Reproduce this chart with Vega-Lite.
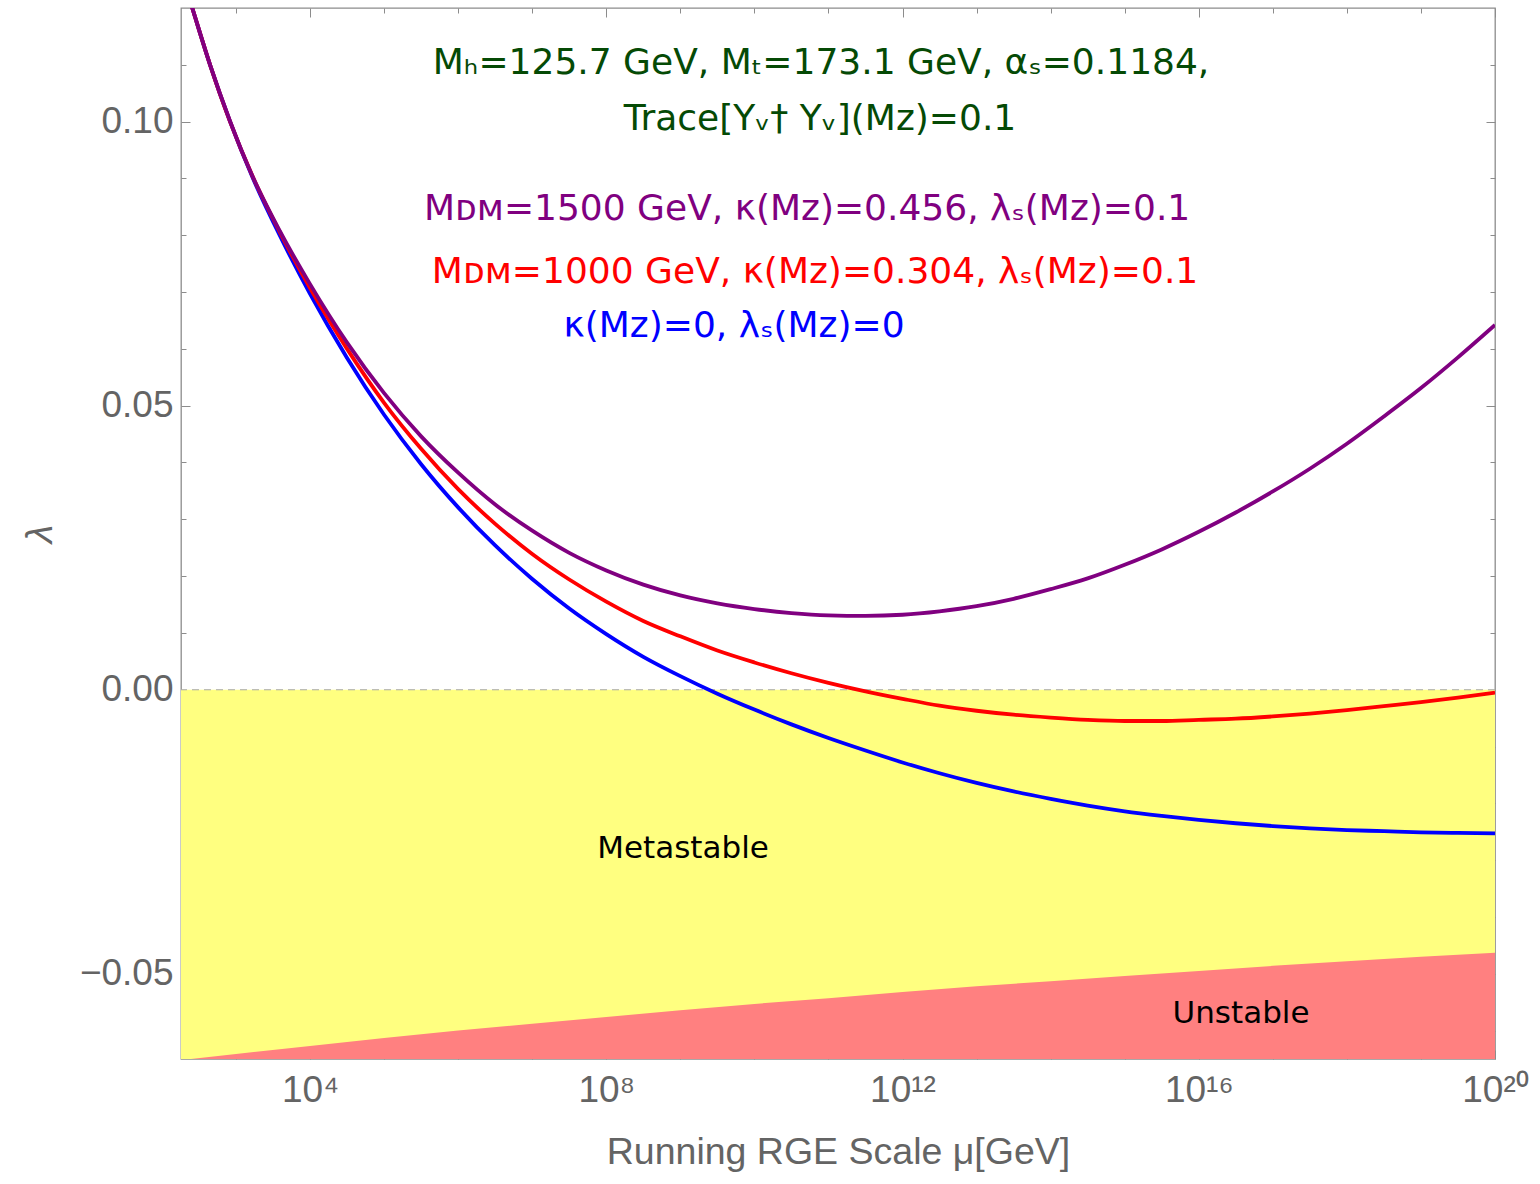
{
  "$schema": "https://vega.github.io/schema/vega-lite/v6.json",
  "width": 1314,
  "height": 1051,
  "autosize": {"type": "none"},
  "padding": {"left": 181, "top": 8, "right": 45, "bottom": 125},
  "background": "#ffffff",
  "config": {
    "view": {"stroke": "#8c8c8c", "strokeWidth": 1.3},
    "axis": {
      "grid": false, "domain": false,
      "labelFont": "Liberation Sans", "titleFont": "Liberation Sans",
      "labelColor": "#646464", "titleColor": "#646464",
      "tickColor": "#8c8c8c", "tickWidth": 1,
      "labelFontSize": 37, "titleFontSize": 37.5, "titleFontWeight": "normal"
    }
  },
  "datasets": {
    "curves": [
      {"mu": 181, "kappa0": 0.1264, "kappa304": 0.1264, "kappa456": 0.1264},
      {"mu": 257, "kappa0": 0.1200, "kappa304": 0.1200, "kappa456": 0.1200},
      {"mu": 446.7, "kappa0": 0.1100, "kappa304": 0.1100, "kappa456": 0.1100},
      {"mu": 831.8, "kappa0": 0.1000, "kappa304": 0.1000, "kappa456": 0.1001},
      {"mu": 1698, "kappa0": 0.0900, "kappa304": 0.0902, "kappa456": 0.0902},
      {"mu": 3890, "kappa0": 0.0800, "kappa304": 0.0806, "kappa456": 0.0808},
      {"mu": 1e4, "kappa0": 0.0697, "kappa304": 0.0707, "kappa456": 0.0714},
      {"mu": 31623, "kappa0": 0.0584, "kappa304": 0.0600, "kappa456": 0.0611},
      {"mu": 1e5, "kappa0": 0.0484, "kappa304": 0.0505, "kappa456": 0.0522},
      {"mu": 316228, "kappa0": 0.0397, "kappa304": 0.0424, "kappa456": 0.0446},
      {"mu": 1e6, "kappa0": 0.0321, "kappa304": 0.0353, "kappa456": 0.0382},
      {"mu": 3162278, "kappa0": 0.0254, "kappa304": 0.0292, "kappa456": 0.0326},
      {"mu": 1e7, "kappa0": 0.0195, "kappa304": 0.0239, "kappa456": 0.0280},
      {"mu": 3.1623e7, "kappa0": 0.0143, "kappa304": 0.0194, "kappa456": 0.0241},
      {"mu": 1e8, "kappa0": 0.0098, "kappa304": 0.0155, "kappa456": 0.0210},
      {"mu": 3.1623e8, "kappa0": 0.0058, "kappa304": 0.0121, "kappa456": 0.0185},
      {"mu": 1e9, "kappa0": 0.0024, "kappa304": 0.0094, "kappa456": 0.0166},
      {"mu": 3.1623e9, "kappa0": -0.0007, "kappa304": 0.0069, "kappa456": 0.0152},
      {"mu": 1e10, "kappa0": -0.0035, "kappa304": 0.0048, "kappa456": 0.0142},
      {"mu": 3.1623e10, "kappa0": -0.0061, "kappa304": 0.0029, "kappa456": 0.0135},
      {"mu": 1e11, "kappa0": -0.0085, "kappa304": 0.0012, "kappa456": 0.0131},
      {"mu": 3.1623e11, "kappa0": -0.0107, "kappa304": -0.0003, "kappa456": 0.0130},
      {"mu": 1e12, "kappa0": -0.0128, "kappa304": -0.0016, "kappa456": 0.0132},
      {"mu": 3.1623e12, "kappa0": -0.0147, "kappa304": -0.0028, "kappa456": 0.0138},
      {"mu": 1e13, "kappa0": -0.0164, "kappa304": -0.0037, "kappa456": 0.0147},
      {"mu": 3.1623e13, "kappa0": -0.0179, "kappa304": -0.0044, "kappa456": 0.0160},
      {"mu": 1e14, "kappa0": -0.0192, "kappa304": -0.0049, "kappa456": 0.0177},
      {"mu": 3.1623e14, "kappa0": -0.0204, "kappa304": -0.0053, "kappa456": 0.0196},
      {"mu": 1e15, "kappa0": -0.0214, "kappa304": -0.0055, "kappa456": 0.0220},
      {"mu": 3.1623e15, "kappa0": -0.0222, "kappa304": -0.0055, "kappa456": 0.0247},
      {"mu": 1e16, "kappa0": -0.0229, "kappa304": -0.0053, "kappa456": 0.0278},
      {"mu": 3.1623e16, "kappa0": -0.0235, "kappa304": -0.0051, "kappa456": 0.0312},
      {"mu": 1e17, "kappa0": -0.0240, "kappa304": -0.0047, "kappa456": 0.0349},
      {"mu": 3.1623e17, "kappa0": -0.0244, "kappa304": -0.0042, "kappa456": 0.0389},
      {"mu": 1e18, "kappa0": -0.0247, "kappa304": -0.0036, "kappa456": 0.0433},
      {"mu": 3.1623e18, "kappa0": -0.0249, "kappa304": -0.0029, "kappa456": 0.0481},
      {"mu": 1e19, "kappa0": -0.0251, "kappa304": -0.0022, "kappa456": 0.0531},
      {"mu": 3.1623e19, "kappa0": -0.0252, "kappa304": -0.0014, "kappa456": 0.0585},
      {"mu": 1e20, "kappa0": -0.0253, "kappa304": -0.0005, "kappa456": 0.0642}
    ],
    "bound": [
      {"mu": 181, "lower": -0.0652},
      {"mu": 1e3, "lower": -0.0641},
      {"mu": 1e4, "lower": -0.0627},
      {"mu": 1e5, "lower": -0.0613},
      {"mu": 1e6, "lower": -0.0600},
      {"mu": 1e7, "lower": -0.0588},
      {"mu": 1e8, "lower": -0.0576},
      {"mu": 1e9, "lower": -0.0564},
      {"mu": 1e10, "lower": -0.0553},
      {"mu": 1e11, "lower": -0.0543},
      {"mu": 1e12, "lower": -0.0532},
      {"mu": 1e13, "lower": -0.0522},
      {"mu": 1e14, "lower": -0.0513},
      {"mu": 1e15, "lower": -0.0504},
      {"mu": 1e16, "lower": -0.0495},
      {"mu": 1e17, "lower": -0.0486},
      {"mu": 1e18, "lower": -0.0478},
      {"mu": 1e19, "lower": -0.0470},
      {"mu": 1e20, "lower": -0.0463}
    ],
    "notes": [
      {"text": "Mₕ=125.7 GeV, Mₜ=173.1 GeV, αₛ=0.1184,", "mu": 7.94e10, "lam": 0.1104, "who": "params"},
      {"text": "Trace[Yᵥ† Yᵥ](Mᴢ)=0.1", "mu": 7.69e10, "lam": 0.1005, "who": "params"},
      {"text": "Mᴅᴍ=1500 GeV, κ(Mᴢ)=0.456, λₛ(Mᴢ)=0.1", "mu": 5.14e10, "lam": 0.0846, "who": "kappa456"},
      {"text": "Mᴅᴍ=1000 GeV, κ(Mᴢ)=0.304, λₛ(Mᴢ)=0.1", "mu": 6.59e10, "lam": 0.0735, "who": "kappa304"},
      {"text": "κ(Mᴢ)=0, λₛ(Mᴢ)=0", "mu": 5.31e9, "lam": 0.0641, "who": "kappa0"}
    ],
    "regions": [
      {"text": "Metastable", "mu": 1.087e9, "lam": -0.0281},
      {"text": "Unstable", "mu": 3.72e16, "lam": -0.0571}
    ]
  },
  "resolve": {"axis": {"x": "independent", "y": "independent"}},
  "layer": [
    {
      "data": {"name": "bound"},
      "mark": {"type": "area", "color": "#ffff80", "clip": true},
      "encoding": {
        "x": {
          "field": "mu", "type": "quantitative",
          "scale": {"type": "log", "domain": [181, 1e20], "nice": false},
          "axis": {
            "orient": "bottom", "values": [1e4, 1e8, 1e12, 1e16, 1e20],
            "labelExpr": "datum.value < 1e5 ? '10⁴' : datum.value < 1e9 ? '10⁸' : datum.value < 1e13 ? '10¹²' : datum.value < 1e17 ? '10¹⁶' : '10²⁰'",
            "tickSize": -9, "labelPadding": 22, "labelFlush": false,
            "title": "Running RGE Scale μ[GeV]", "titlePadding": 25
          }
        },
        "y": {
          "datum": 0, "type": "quantitative",
          "scale": {"domain": [-0.065, 0.12], "nice": false, "zero": false},
          "axis": {
            "orient": "left", "values": [-0.05, 0, 0.05, 0.1], "format": ".2f",
            "tickSize": -9, "labelPadding": 17,
            "title": "λ", "titleFontStyle": "italic", "titlePadding": 20
          }
        },
        "y2": {"datum": -0.07}
      }
    },
    {
      "data": {"name": "bound"},
      "mark": {"type": "area", "color": "#ff8080", "clip": true},
      "encoding": {
        "x": {
          "field": "mu", "type": "quantitative",
          "scale": {"type": "log", "domain": [181, 1e20], "nice": false},
          "axis": {"orient": "top", "values": [1e4, 1e8, 1e12, 1e16, 1e20], "labels": false, "tickSize": -9, "title": null}
        },
        "y": {
          "field": "lower", "type": "quantitative",
          "axis": {"orient": "right", "values": [-0.05, 0, 0.05, 0.1], "labels": false, "tickSize": -9, "title": null}
        },
        "y2": {"datum": -0.07}
      }
    },
    {
      "data": {"values": [{}]},
      "mark": {"type": "rule", "color": "#a8a8a8", "strokeDash": [7, 5], "strokeWidth": 1.2},
      "encoding": {
        "y": {
          "datum": 0, "type": "quantitative",
          "axis": {"orient": "left", "values": [-0.06, -0.04, -0.03, -0.02, -0.01, 0.01, 0.02, 0.03, 0.04, 0.06, 0.07, 0.08, 0.09, 0.11], "labels": false, "tickSize": -5, "title": null}
        }
      }
    },
    {
      "data": {"name": "curves"},
      "transform": [{"fold": ["kappa0", "kappa304", "kappa456"], "as": ["series", "lam"]}],
      "mark": {"type": "line", "strokeWidth": 3.8, "interpolate": "monotone", "clip": true},
      "encoding": {
        "x": {
          "field": "mu", "type": "quantitative",
          "scale": {"type": "log", "domain": [181, 1e20], "nice": false},
          "axis": {"orient": "bottom", "values": [1e3, 1e5, 1e6, 1e7, 1e9, 1e10, 1e11, 1e13, 1e14, 1e15, 1e17, 1e18, 1e19], "labels": false, "tickSize": -5, "title": null}
        },
        "y": {
          "field": "lam", "type": "quantitative",
          "axis": {"orient": "right", "values": [-0.06, -0.04, -0.03, -0.02, -0.01, 0.01, 0.02, 0.03, 0.04, 0.06, 0.07, 0.08, 0.09, 0.11], "labels": false, "tickSize": -5, "title": null}
        },
        "color": {
          "field": "series", "type": "nominal",
          "scale": {"domain": ["kappa0", "kappa304", "kappa456", "params"], "range": ["#0000ff", "#ff0000", "#800080", "#054a05"]},
          "legend": null
        }
      }
    },
    {
      "data": {"name": "notes"},
      "mark": {"type": "text", "font": "DejaVu Sans", "fontSize": 36, "align": "center", "baseline": "middle"},
      "encoding": {
        "x": {
          "field": "mu", "type": "quantitative",
          "scale": {"type": "log", "domain": [181, 1e20], "nice": false},
          "axis": {"orient": "top", "values": [1e3, 1e5, 1e6, 1e7, 1e9, 1e10, 1e11, 1e13, 1e14, 1e15, 1e17, 1e18, 1e19], "labels": false, "tickSize": -5, "title": null}
        },
        "y": {"field": "lam", "type": "quantitative", "axis": null},
        "text": {"field": "text"},
        "color": {
          "field": "who", "type": "nominal",
          "scale": {"domain": ["kappa0", "kappa304", "kappa456", "params"], "range": ["#0000ff", "#ff0000", "#800080", "#054a05"]},
          "legend": null
        }
      }
    },
    {
      "data": {"name": "regions"},
      "mark": {"type": "text", "font": "DejaVu Sans", "fontSize": 31, "align": "center", "baseline": "middle", "color": "#000000"},
      "encoding": {
        "x": {"field": "mu", "type": "quantitative", "scale": {"type": "log", "domain": [181, 1e20], "nice": false}, "axis": null},
        "y": {"field": "lam", "type": "quantitative", "axis": null},
        "text": {"field": "text"}
      }
    }
  ]
}
